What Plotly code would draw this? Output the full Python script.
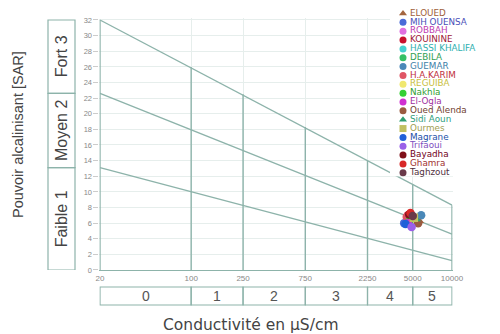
import math
import plotly.graph_objects as go

# stations (legend order) and their readings
stations = ["ELOUED", "MIH OUENSA", "ROBBAH", "KOUININE", "HASSI KHALIFA", "DEBILA",
            "GUEMAR", "H.A.KARIM", "REGUIBA", "Nakhla", "El-Ogla", "Oued Alenda",
            "Sidi Aoun", "Ourmes", "Magrane", "Trifaoui", "Bayadha", "Ghamra", "Taghzout"]
conductivity = [5600, 4300, 4700, 4600, 5200, 4900, 5800, 4500, 5000, 4800, 4600, 5500,
                5300, 5100, 4400, 4900, 4700, 4800, 5000]
sar = [6.3, 6.0, 6.6, 7.0, 6.2, 6.4, 7.0, 6.8, 6.1, 6.5, 6.0, 6.0,
       6.5, 6.7, 5.9, 5.5, 7.1, 7.3, 6.9]
marker_colors = ["#a3653f", "#4a6ad8", "#e070e0", "#c8102e", "#45d0d0", "#35c065",
                 "#4a88b8", "#e05565", "#f0e870", "#35d035", "#d030d0", "#9a5a40",
                 "#30a070", "#c0c060", "#2060d8", "#9a60e8", "#80101a", "#d82828", "#6a3a4a"]
text_colors = ["#a0603a", "#4a50b8", "#c040b0", "#a01838", "#30b0b0", "#30a050",
               "#4080a8", "#c03040", "#c8c040", "#30a030", "#a030a0", "#704030",
               "#30a080", "#a0a050", "#2050a8", "#8050c0", "#700020", "#a03030", "#503040"]
symbols = ["triangle-up", "circle", "circle", "circle", "circle", "circle", "circle",
           "circle", "circle", "circle", "circle", "circle", "triangle-up", "square",
           "circle", "circle", "circle", "circle", "circle"]

# diagram boundaries (SAR at EC=20 and EC=10000)
ec_ends = [20, 10000]
sar_s3_s4 = [32.0, 8.3]
sar_s2_s3 = [22.6, 4.6]
sar_s1_s2 = [13.1, 1.2]
ec_limits = [20, 100, 250, 750, 2250, 5000, 10000]
ec_limits_top = [32.0, 26.0, 22.5, 18.3, 14.0, 11.0, 8.3]
salinity_classes = ["0", "1", "2", "3", "4", "5"]
sar_limits = [0, 13.1, 22.6, 32.0]
sodium_classes = ["Faible 1", "Moyen 2", "Fort 3"]
x_ticks = [20, 100, 250, 750, 2250, 5000, 10000]
y_ticks = list(range(0, 33, 2))

W, H = 500, 334
OFF = 8  # page margin of the browser, positions below are screen pixels
line_col = "#8db3aa"
grid_col = "#e6eeec"


def px(x):
    return (x - OFF) / W


def py(y):
    return (H - (y - OFF)) / H


# main plot placement in screen pixels
x0_px, x1_px = 100, 452
y0_px, y32_px = 270, 20
pad = 0.004
lo, hi = math.log10(20), 4.0
ppd = (x1_px - x0_px) / (hi - lo)
xdom = [px(x0_px - pad * ppd), px(x1_px + pad * ppd)]
ppu = (y0_px - y32_px) / 32
ytop = 32.2
ydom = [py(y0_px), py(y0_px - ytop * ppu)]

fig = go.Figure()

for vals in (sar_s3_s4, sar_s2_s3, sar_s1_s2):
    fig.add_trace(go.Scatter(x=ec_ends, y=vals, mode="lines",
                             line=dict(color=line_col, width=1.4), hoverinfo="skip"))

vx, vy = [], []
for e, t in zip(ec_limits, ec_limits_top):
    vx += [e, e, None]
    vy += [0, t, None]
fig.add_trace(go.Scatter(x=vx, y=vy, mode="lines", line=dict(color=line_col, width=1.4),
                         hoverinfo="skip"))

fig.add_trace(go.Scatter(x=conductivity, y=sar, mode="markers", text=stations,
                         marker=dict(color=marker_colors, symbol=symbols, size=8.5,
                                     line=dict(width=0))))

# compact legend drawn on its own hidden axes
leg_top, leg_step = 13.5, 8.85
idx = [-i for i in range(len(stations))]
fig.add_trace(go.Scatter(x=[13] * len(stations), y=idx, mode="markers", xaxis="x2", yaxis="y2",
                         marker=dict(color=marker_colors, symbol=symbols, size=7),
                         cliponaxis=False, hoverinfo="skip"))
fig.add_trace(go.Scatter(x=[20] * len(stations), y=idx, mode="text", xaxis="x2", yaxis="y2",
                         text=stations, textposition="middle right", cliponaxis=False,
                         textfont=dict(color=text_colors, size=8.8, family="DejaVu Sans"),
                         hoverinfo="skip"))

shapes = []
# salinity class boxes under the plot
for a, b in zip(ec_limits[:-1], ec_limits[1:]):
    shapes.append(dict(type="rect", xref="x", yref="paper", x0=a, x1=b,
                       y0=py(305), y1=py(287), line=dict(color=line_col, width=1.2)))
# sodium class boxes left of the plot
for a, b in zip(sar_limits[:-1], sar_limits[1:]):
    shapes.append(dict(type="rect", xref="paper", yref="y", x0=px(48), x1=px(75),
                       y0=a, y1=b, line=dict(color=line_col, width=1.2)))

annotations = []
for a, b, lab in zip(ec_limits[:-1], ec_limits[1:], salinity_classes):
    annotations.append(dict(x=(math.log10(a) + math.log10(b)) / 2, xref="x",
                            y=py(296), yref="paper", text=lab, showarrow=False,
                            xanchor="center", yanchor="middle",
                            font=dict(size=14, color="#555555")))
for a, b, lab in zip(sar_limits[:-1], sar_limits[1:], sodium_classes):
    annotations.append(dict(x=px(61.5), xref="paper", y=(a + b) / 2, yref="y", text=lab,
                            showarrow=False, textangle=-90, xanchor="center", yanchor="middle",
                            font=dict(size=16, color="#444444")))
annotations.append(dict(x=px(18), y=py(135), xref="paper", yref="paper",
                        text="Pouvoir alcalinisant [SAR]", showarrow=False, textangle=-90,
                        xanchor="center", yanchor="middle",
                        font=dict(size=14.5, color="#444444")))
annotations.append(dict(x=px(251), y=py(324.5), xref="paper", yref="paper",
                        text="Conductivité en µS/cm", showarrow=False,
                        xanchor="center", yanchor="middle",
                        font=dict(size=15.5, color="#444444", family="DejaVu Sans")))

fig.update_layout(
    width=W, height=H,
    margin=dict(l=0, r=0, t=0, b=0),
    paper_bgcolor="white", plot_bgcolor="white",
    showlegend=False,
    font=dict(family="Liberation Sans", color="#444444"),
    xaxis=dict(type="log", domain=xdom, range=[lo - pad, hi + pad],
               tickvals=x_ticks, ticktext=[str(t) for t in x_ticks],
               tickfont=dict(size=8, color="#888888"), ticks="",
               showgrid=True, gridcolor=grid_col, gridwidth=1,
               showline=True, linecolor=line_col, linewidth=1.4, zeroline=False,
               automargin=False),
    yaxis=dict(domain=ydom, range=[0, ytop], tickvals=y_ticks,
               tickfont=dict(size=7.5, color="#888888"),
               ticks="outside", ticklen=5, tickcolor="#cccccc",
               showgrid=True, gridcolor=grid_col, gridwidth=1,
               showline=False, zeroline=False, automargin=False),
    xaxis2=dict(domain=[px(390), px(500)], range=[0, 110], visible=False, anchor="y2",
                fixedrange=True),
    yaxis2=dict(domain=[py(leg_top + 18.4 * leg_step), py(leg_top - 0.4 * leg_step)],
                range=[-18.4, 0.4], visible=False, anchor="x2", fixedrange=True),
    shapes=shapes,
    annotations=annotations,
)

fig.write_html("out.html")
